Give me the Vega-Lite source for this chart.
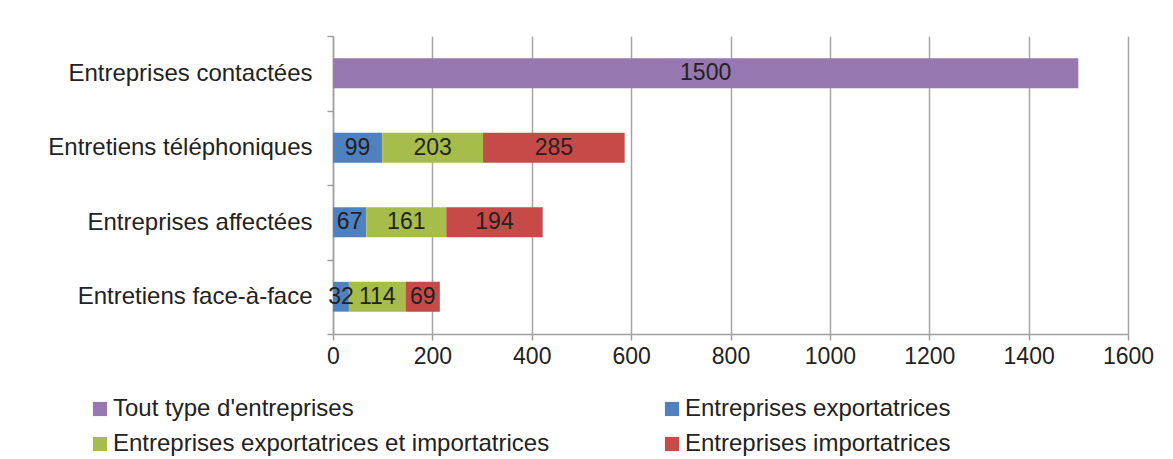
{
  "$schema": "https://vega.github.io/schema/vega-lite/v6.json",
  "width": 795,
  "height": 298,
  "autosize": {"type": "none"},
  "padding": {"left": 333, "top": 36, "right": 45, "bottom": 125},
  "background": "white",
  "config": {
    "font": "Liberation Sans",
    "view": {"stroke": null},
    "axisX": {
      "domainColor": "#a0a0a0", "domainWidth": 1.5,
      "tickColor": "#a0a0a0", "tickWidth": 1.5, "tickSize": 6,
      "grid": true, "gridColor": "#a6a6a6", "gridWidth": 1.5,
      "labelFontSize": 23, "labelColor": "#222222", "labelPadding": 5,
      "labelFont": "Liberation Sans", "labelFlush": false, "labelOverlap": false
    },
    "axisY": {
      "domainColor": "#a0a0a0", "domainWidth": 1.5,
      "tickColor": "#a0a0a0", "tickWidth": 1.5, "tickSize": 6,
      "tickBand": "extent", "grid": false,
      "labelFontSize": 24, "labelColor": "#222222", "labelPadding": 15,
      "labelLimit": 400, "labelFont": "Liberation Sans"
    }
  },
  "data": {
    "values": [
      {"category": "Entreprises contactées", "serie": "Tout type d'entreprises", "value": 1500, "order": 0},
      {"category": "Entretiens téléphoniques", "serie": "Entreprises exportatrices", "value": 99, "order": 1},
      {"category": "Entretiens téléphoniques", "serie": "Entreprises exportatrices et importatrices", "value": 203, "order": 2},
      {"category": "Entretiens téléphoniques", "serie": "Entreprises importatrices", "value": 285, "order": 3},
      {"category": "Entreprises affectées", "serie": "Entreprises exportatrices", "value": 67, "order": 1},
      {"category": "Entreprises affectées", "serie": "Entreprises exportatrices et importatrices", "value": 161, "order": 2},
      {"category": "Entreprises affectées", "serie": "Entreprises importatrices", "value": 194, "order": 3},
      {"category": "Entretiens face-à-face", "serie": "Entreprises exportatrices", "value": 32, "order": 1},
      {"category": "Entretiens face-à-face", "serie": "Entreprises exportatrices et importatrices", "value": 114, "order": 2},
      {"category": "Entretiens face-à-face", "serie": "Entreprises importatrices", "value": 69, "order": 3}
    ]
  },
  "transform": [
    {"stack": "value", "groupby": ["category"], "sort": [{"field": "order"}], "as": ["v0", "v1"]},
    {"calculate": "(datum.v0 + datum.v1) / 2", "as": "mid"}
  ],
  "encoding": {
    "y": {
      "field": "category", "type": "nominal",
      "sort": ["Entreprises contactées", "Entretiens téléphoniques", "Entreprises affectées", "Entretiens face-à-face"],
      "scale": {"paddingInner": 0, "paddingOuter": 0},
      "axis": {"title": null}
    }
  },
  "layer": [
    {
      "mark": {"type": "bar", "height": {"band": 0.4}},
      "encoding": {
        "x": {"field": "v0", "type": "quantitative", "scale": {"domain": [0, 1600], "nice": false}, "axis": {"title": null, "format": "d", "values": [0, 200, 400, 600, 800, 1000, 1200, 1400, 1600]}},
        "x2": {"field": "v1"},
        "color": {
          "field": "serie", "type": "nominal",
          "scale": {
            "domain": ["Tout type d'entreprises", "Entreprises exportatrices", "Entreprises exportatrices et importatrices", "Entreprises importatrices"],
            "range": ["#9777af", "#4f81c0", "#a6bd4b", "#c64b48"]
          },
          "legend": {
            "orient": "none", "legendX": -245, "legendY": 361, "direction": "horizontal",
            "columns": 2, "columnPadding": 110, "rowPadding": 11,
            "symbolType": "square", "symbolSize": 200, "symbolStrokeWidth": 0,
            "labelFontSize": 24, "labelColor": "#222222", "labelOffset": 1,
            "labelLimit": 600, "title": null, "labelFont": "Liberation Sans"
          }
        }
      }
    },
    {
      "mark": {"type": "text", "fontSize": 23, "color": "#222222", "font": "Liberation Sans"},
      "encoding": {
        "x": {"field": "mid", "type": "quantitative"},
        "text": {"field": "value", "type": "quantitative"}
      }
    }
  ]
}
